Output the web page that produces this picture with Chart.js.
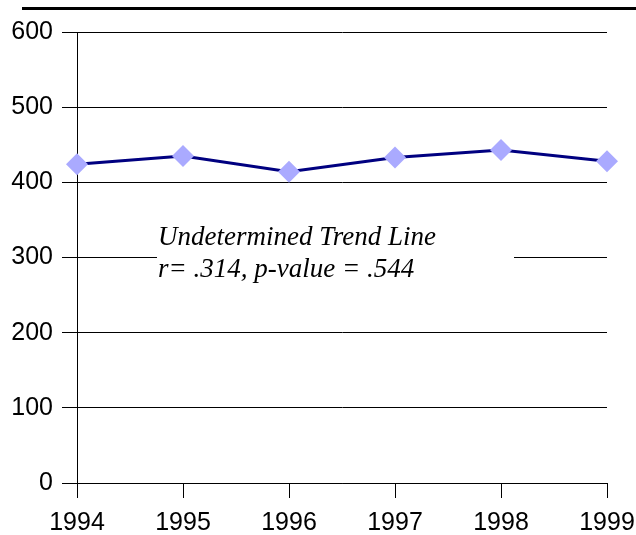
<!DOCTYPE html>
<html><head><meta charset="utf-8">
<script src="https://cdn.jsdelivr.net/npm/chart.js@4/dist/chart.umd.min.js"></script>
<style>html,body{margin:0;padding:0;background:#fff;}#wrap{width:636px;height:535px;position:relative;}</style>
</head><body><div id="wrap"><canvas id="c" width="636" height="535"></canvas></div>
<script>
const categories = ['1994','1995','1996','1997','1998','1999'];
const values = [424, 435, 414, 433, 443, 428];
const yTicks = [0,100,200,300,400,500,600];
const noteLines = ['Undetermined Trend Line', 'r= .314, p-value = .544'];

const overlay = {
  id: 'overlay',
  beforeDatasetsDraw(chart) {
    const ctx = chart.ctx;
    ctx.save();
    ctx.fillStyle = '#fff';
    ctx.fillRect(157, 222, 357, 66);
    ctx.fillStyle = '#000';
    ctx.font = 'italic 27px "Liberation Serif"';
    ctx.textBaseline = 'alphabetic';
    ctx.fillText(noteLines[0], 158, 245);
    ctx.fillText(noteLines[1], 158, 277);
    ctx.restore();
  },
  afterDraw(chart) {
    const ctx = chart.ctx;
    ctx.save();
    ctx.fillStyle = '#000';
    ctx.fillRect(22, 7, 614, 3);
    ctx.restore();
  }
};

new Chart(document.getElementById('c'), {
  type: 'line',
  data: {
    labels: categories,
    datasets: [{
      data: values,
      borderColor: '#000080',
      borderWidth: 3,
      pointStyle: 'rectRot',
      pointRadius: 11,
      pointHoverRadius: 11,
      pointBackgroundColor: '#aaaaff',
      pointBorderColor: '#aaaaff',
      pointBorderWidth: 0,
      tension: 0
    }]
  },
  options: {
    responsive: false,
    animation: false,
    events: [],
    layout: { padding: { top: 32, right: 29, left: 0, bottom: 0 } },
    plugins: { legend: { display: false }, tooltip: { enabled: false } },
    scales: {
      x: {
        offset: false,
        grid: { drawOnChartArea: false, drawTicks: true, tickLength: 15, color: '#000', lineWidth: 1 },
        border: { color: '#000', width: 1 },
        ticks: { font: { family: '"Liberation Sans"', size: 25 }, color: '#000', padding: 10, maxRotation: 0, autoSkip: false },
        afterFit(s) { s.height = 52; s.paddingLeft = 0; s.paddingRight = 0; }
      },
      y: {
        min: 0, max: 600,
        afterBuildTicks(s) { s.ticks = yTicks.map(v => ({ value: v })); },
        grid: { drawOnChartArea: true, drawTicks: true, tickLength: 15, color: '#000', lineWidth: 1 },
        border: { color: '#000', width: 1 },
        ticks: { font: { family: '"Liberation Sans"', size: 25 }, color: '#000', padding: 9 },
        afterFit(s) { s.width = 77; s.paddingTop = 0; s.paddingBottom = 0; }
      }
    }
  },
  plugins: [overlay]
});
</script></body></html>
